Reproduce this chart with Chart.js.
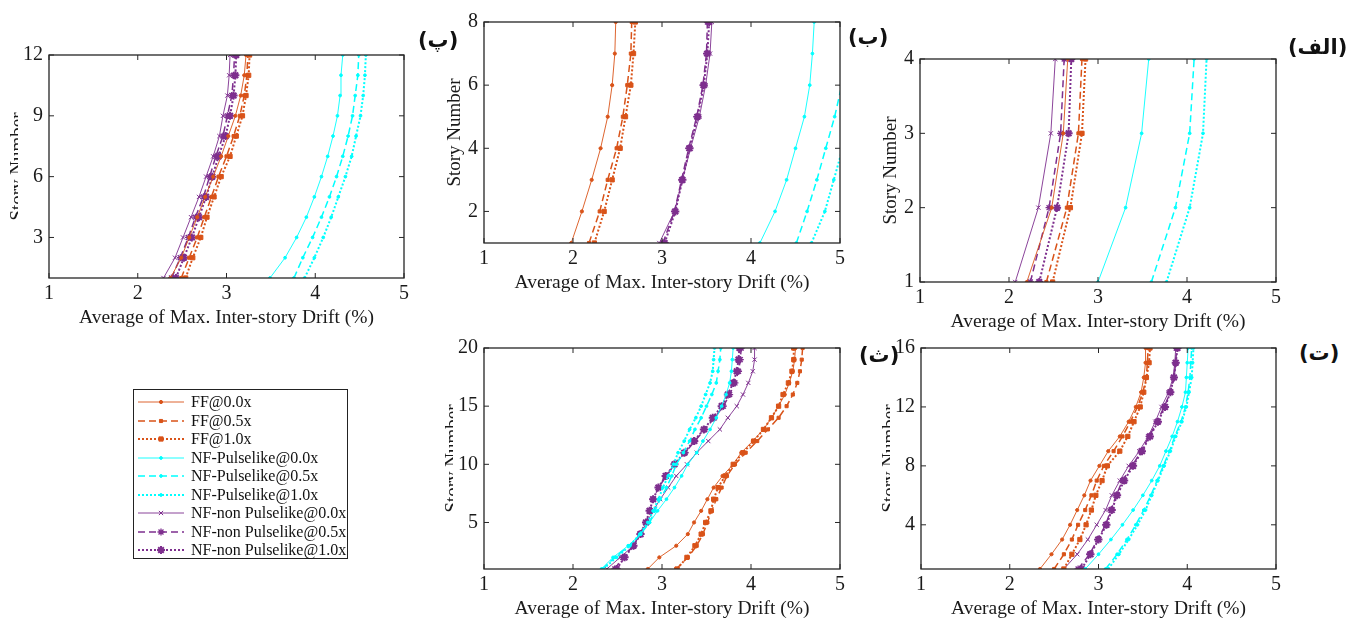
<!DOCTYPE html>
<html>
<head>
<meta charset="utf-8">
<script src="https://cdn.jsdelivr.net/npm/chart.js@4.4.1/dist/chart.umd.min.js"></script>
<style>
  body { margin: 0; background: #fff; width: 1346px; height: 622px; position: relative; overflow: hidden; font-family: "Liberation Serif", "DejaVu Serif", serif; }
  canvas.plot { position: absolute; }
  .tag { position: absolute; font: bold 21px "DejaVu Sans", sans-serif; color: #111; white-space: nowrap; line-height: 26px; }
  #legend { position: absolute; left: 133px; top: 389px; width: 213px; height: 168px; border: 1.5px solid #222; background: #fff; }
  .row { position: absolute; left: 0; height: 18px; display: flex; align-items: center; }
  .row span { font-size: 16px; color: #111; margin-left: 5px; }
</style>
</head>
<body>
<canvas id="pA" class="plot"></canvas>
<canvas id="pB" class="plot"></canvas>
<canvas id="pC" class="plot"></canvas>
<canvas id="pD" class="plot"></canvas>
<canvas id="pE" class="plot"></canvas>
<div id="legend"></div>
<div class="tag" style="left:1288px;top:34px">(الف)</div>
<div class="tag" style="left:848px;top:24px">(ب)</div>
<div class="tag" style="left:418px;top:27px">(پ)</div>
<div class="tag" style="left:1299px;top:340px">(ت)</div>
<div class="tag" style="left:859px;top:342px">(ث)</div>
<script>
// series names, in legend order
const seriesNames = ['FF@0.0x', 'FF@0.5x', 'FF@1.0x',
  'NF-Pulselike@0.0x', 'NF-Pulselike@0.5x', 'NF-Pulselike@1.0x',
  'NF-non Pulselike@0.0x', 'NF-non Pulselike@0.5x', 'NF-non Pulselike@1.0x'];

const xTicks = [1, 2, 3, 4, 5];

// 12 story model
const storiesA = [1, 2, 3, 4, 5, 6, 7, 8, 9, 10, 11, 12];
const yTicksA = [3, 6, 9, 12];
const driftA = [
  [2.37, 2.49, 2.58, 2.67, 2.76, 2.85, 2.94, 3.02, 3.10, 3.16, 3.20, 3.22],
  [2.49, 2.58, 2.67, 2.75, 2.83, 2.91, 3.00, 3.08, 3.15, 3.20, 3.23, 3.24],
  [2.54, 2.62, 2.71, 2.78, 2.86, 2.94, 3.04, 3.11, 3.18, 3.22, 3.25, 3.26],
  [3.49, 3.66, 3.79, 3.90, 3.99, 4.07, 4.14, 4.20, 4.25, 4.28, 4.29, 4.31],
  [3.76, 3.86, 3.97, 4.07, 4.16, 4.24, 4.31, 4.37, 4.42, 4.45, 4.48, 4.49],
  [3.88, 3.99, 4.09, 4.18, 4.26, 4.34, 4.41, 4.46, 4.51, 4.54, 4.56, 4.57],
  [2.29, 2.42, 2.51, 2.60, 2.69, 2.77, 2.85, 2.92, 2.96, 3.01, 3.03, 3.04],
  [2.38, 2.48, 2.57, 2.65, 2.74, 2.81, 2.88, 2.96, 3.01, 3.06, 3.08, 3.09],
  [2.43, 2.52, 2.61, 2.69, 2.77, 2.84, 2.91, 2.99, 3.04, 3.08, 3.10, 3.11]
];

// 8 story model
const storiesB = [1, 2, 3, 4, 5, 6, 7, 8];
const yTicksB = [2, 4, 6, 8];
const driftB = [
  [1.98, 2.10, 2.21, 2.31, 2.39, 2.44, 2.47, 2.48],
  [2.18, 2.30, 2.39, 2.49, 2.56, 2.61, 2.65, 2.66],
  [2.24, 2.35, 2.44, 2.53, 2.59, 2.65, 2.68, 2.70],
  [4.10, 4.27, 4.40, 4.50, 4.60, 4.66, 4.69, 4.71],
  [4.51, 4.63, 4.74, 4.84, 4.94, 5.02, 5.08, 5.10],
  [4.68, 4.83, 4.93, 5.03, 5.12, 5.18, 5.22, 5.24],
  [2.97, 3.14, 3.23, 3.32, 3.42, 3.49, 3.54, 3.56],
  [3.01, 3.14, 3.22, 3.30, 3.39, 3.46, 3.50, 3.51],
  [3.03, 3.15, 3.23, 3.31, 3.40, 3.47, 3.51, 3.53]
];

// 4 story model
const storiesC = [1, 2, 3, 4];
const yTicksC = [1, 2, 3, 4];
const driftC = [
  [2.20, 2.48, 2.61, 2.66],
  [2.42, 2.65, 2.78, 2.82],
  [2.49, 2.69, 2.82, 2.86],
  [3.00, 3.31, 3.49, 3.57],
  [3.60, 3.87, 4.03, 4.08],
  [3.77, 4.03, 4.18, 4.22],
  [2.07, 2.33, 2.47, 2.52],
  [2.24, 2.45, 2.58, 2.62],
  [2.34, 2.54, 2.67, 2.70]
];

// 20 story model
const storiesD = [1, 2, 3, 4, 5, 6, 7, 8, 9, 10, 11, 12, 13, 14, 15, 16, 17, 18, 19, 20];
const yTicksD = [5, 10, 15, 20];
const driftD = [
  [2.84, 2.97, 3.16, 3.29, 3.36, 3.44, 3.51, 3.58, 3.68, 3.80, 3.89, 4.02, 4.14, 4.23, 4.31, 4.38, 4.43, 4.47, 4.49, 4.50],
  [3.16, 3.29, 3.39, 3.46, 3.51, 3.56, 3.61, 3.67, 3.73, 3.82, 3.94, 4.07, 4.19, 4.31, 4.40, 4.47, 4.52, 4.55, 4.57, 4.58],
  [3.17, 3.28, 3.37, 3.44, 3.49, 3.55, 3.58, 3.63, 3.71, 3.80, 3.91, 4.03, 4.14, 4.23, 4.31, 4.36, 4.42, 4.46, 4.48, 4.48],
  [2.32, 2.45, 2.62, 2.76, 2.86, 2.95, 3.05, 3.14, 3.22, 3.29, 3.39, 3.46, 3.54, 3.61, 3.67, 3.72, 3.76, 3.78, 3.79, 3.80],
  [2.33, 2.47, 2.63, 2.76, 2.86, 2.92, 2.98, 3.05, 3.11, 3.16, 3.24, 3.31, 3.37, 3.44, 3.50, 3.56, 3.61, 3.63, 3.65, 3.66],
  [2.34, 2.49, 2.64, 2.75, 2.84, 2.90, 2.96, 3.01, 3.07, 3.13, 3.18, 3.25, 3.31, 3.38, 3.44, 3.49, 3.54, 3.57, 3.58, 3.59],
  [2.38, 2.53, 2.68, 2.75, 2.83, 2.90, 2.98, 3.07, 3.16, 3.28, 3.39, 3.52, 3.65, 3.74, 3.84, 3.91, 3.97, 4.02, 4.04, 4.04],
  [2.47, 2.56, 2.68, 2.75, 2.82, 2.87, 2.90, 2.96, 3.05, 3.14, 3.26, 3.37, 3.48, 3.59, 3.69, 3.76, 3.82, 3.86, 3.88, 3.89],
  [2.49, 2.58, 2.68, 2.76, 2.82, 2.86, 2.90, 2.96, 3.04, 3.14, 3.25, 3.36, 3.47, 3.57, 3.67, 3.74, 3.80, 3.84, 3.86, 3.87]
];

// 16 story model
const storiesE = [1, 2, 3, 4, 5, 6, 7, 8, 9, 10, 11, 12, 13, 14, 15, 16];
const yTicksE = [4, 8, 12, 16];
const driftE = [
  [2.34, 2.47, 2.59, 2.68, 2.76, 2.84, 2.91, 3.01, 3.11, 3.24, 3.34, 3.42, 3.48, 3.51, 3.53, 3.53],
  [2.50, 2.61, 2.70, 2.77, 2.85, 2.92, 2.98, 3.06, 3.17, 3.27, 3.36, 3.44, 3.50, 3.54, 3.55, 3.56],
  [2.61, 2.70, 2.79, 2.86, 2.92, 2.97, 3.04, 3.10, 3.24, 3.33, 3.40, 3.47, 3.51, 3.54, 3.57, 3.58],
  [2.85, 3.00, 3.14, 3.27, 3.39, 3.50, 3.60, 3.69, 3.76, 3.83, 3.89, 3.94, 3.98, 3.99, 4.00, 4.01],
  [3.08, 3.21, 3.32, 3.42, 3.51, 3.59, 3.66, 3.73, 3.80, 3.86, 3.93, 3.98, 4.01, 4.03, 4.04, 4.05],
  [3.11, 3.23, 3.34, 3.44, 3.53, 3.60, 3.67, 3.74, 3.81, 3.87, 3.94, 3.99, 4.02, 4.05, 4.06, 4.07],
  [2.61, 2.76, 2.88, 2.98, 3.08, 3.15, 3.24, 3.34, 3.46, 3.56, 3.64, 3.71, 3.79, 3.84, 3.86, 3.87],
  [2.77, 2.90, 2.99, 3.08, 3.14, 3.20, 3.27, 3.38, 3.48, 3.57, 3.66, 3.74, 3.81, 3.85, 3.87, 3.88],
  [2.81, 2.91, 3.00, 3.09, 3.15, 3.21, 3.29, 3.39, 3.49, 3.58, 3.67, 3.75, 3.81, 3.85, 3.87, 3.89]
];

const xTitle = 'Average of Max. Inter-story Drift (%)';
const yTitle = 'Story Number';

// line / marker style of each series (same order as seriesNames)
const ORANGE = '#D95319', CYAN = '#00FFFF', PURPLE = '#7E2F8E';
const styles = [
  { color: ORANGE, dash: [],     width: 0.9, point: 'circle',   r: 1.6, pw: 1 },
  { color: ORANGE, dash: [7, 4], width: 1.5, point: 'rect',     r: 2.2, pw: 1 },
  { color: ORANGE, dash: [2, 2], width: 2,   point: 'rect',     r: 3,   pw: 1 },
  { color: CYAN,   dash: [],     width: 0.9, point: 'circle',   r: 1.4, pw: 1 },
  { color: CYAN,   dash: [7, 4], width: 1.5, point: 'circle',   r: 1.4, pw: 1 },
  { color: CYAN,   dash: [2, 2], width: 2,   point: 'circle',   r: 1.4, pw: 1 },
  { color: PURPLE, dash: [],     width: 0.9, point: 'crossRot', r: 3,   pw: 1 },
  { color: PURPLE, dash: [7, 4], width: 1.5, point: 'star',     r: 3.5, pw: 1.3 },
  { color: PURPLE, dash: [2, 2], width: 2,   point: 'star',     r: 4,   pw: 2 }
];

Chart.defaults.font.family = '"Liberation Serif", "DejaVu Serif", serif';
Chart.defaults.color = '#1a1a1a';

// box around the axes with inward ticks, like matlab
const framePlugin = {
  id: 'frame',
  afterDatasetsDraw(chart) {
    const { ctx, chartArea: a, scales: { x, y } } = chart;
    ctx.save();
    ctx.strokeStyle = '#262626';
    ctx.lineWidth = 1.3;
    ctx.setLineDash([]);
    ctx.strokeRect(a.left, a.top, a.right - a.left, a.bottom - a.top);
    ctx.lineWidth = 1;
    ctx.beginPath();
    x.ticks.forEach(t => {
      const px = x.getPixelForValue(t.value);
      ctx.moveTo(px, a.bottom); ctx.lineTo(px, a.bottom - 5);
      ctx.moveTo(px, a.top); ctx.lineTo(px, a.top + 5);
    });
    y.ticks.forEach(t => {
      const py = y.getPixelForValue(t.value);
      ctx.moveTo(a.left, py); ctx.lineTo(a.left + 5, py);
      ctx.moveTo(a.right, py); ctx.lineTo(a.right - 5, py);
    });
    ctx.stroke();
    ctx.restore();
  }
};

// y title drawn by hand, some of them are half hidden in the original figure
const yTitlePlugin = {
  id: 'yTitle',
  afterDraw(chart, args, opts) {
    const { ctx, chartArea: a } = chart;
    ctx.save();
    let base = a.left - 24;
    if (opts.clipped) {
      base = a.left - 26;
      ctx.beginPath();
      ctx.rect(a.left - 41, a.top, 10, a.bottom - a.top);
      ctx.clip();
    }
    ctx.translate(base, (a.top + a.bottom) / 2);
    ctx.rotate(-Math.PI / 2);
    ctx.font = '19px "Liberation Serif", serif';
    ctx.fillStyle = '#1a1a1a';
    ctx.textAlign = 'center';
    ctx.textBaseline = 'alphabetic';
    ctx.fillText(opts.text, 0, 0);
    ctx.restore();
  }
};

const PAD_L = 50, PAD_T = 14, PAD_R = 14, PAD_B = 55;

function drawPanel(id, box, stories, drift, yTicks, clipped) {
  const cv = document.getElementById(id);
  const w = box.R - box.L + PAD_L + PAD_R;
  const h = box.B - box.T + PAD_T + PAD_B;
  cv.width = w; cv.height = h;
  cv.style.left = (box.L - PAD_L) + 'px';
  cv.style.top = (box.T - PAD_T) + 'px';
  cv.style.width = w + 'px'; cv.style.height = h + 'px';

  const datasets = drift.map((vals, i) => {
    const s = styles[i];
    return {
      label: seriesNames[i],
      data: stories.map((st, k) => ({ x: vals[k], y: st })),
      showLine: true,
      borderColor: s.color,
      backgroundColor: s.color,
      borderWidth: s.width,
      borderDash: s.dash,
      pointStyle: s.point,
      pointRadius: s.r,
      pointBorderWidth: s.pw,
      pointBackgroundColor: s.color,
      pointBorderColor: s.color,
      tension: 0
    };
  });

  new Chart(cv, {
    type: 'scatter',
    data: { datasets },
    plugins: [framePlugin, yTitlePlugin],
    options: {
      responsive: false,
      maintainAspectRatio: false,
      animation: false,
      layout: { padding: { top: PAD_T, right: PAD_R, left: 0, bottom: 0 } },
      plugins: {
        legend: { display: false },
        tooltip: { enabled: false },
        yTitle: { text: yTitle, clipped }
      },
      scales: {
        x: {
          type: 'linear', min: 1, max: 5,
          afterBuildTicks: sc => { sc.ticks = xTicks.map(v => ({ value: v })); },
          ticks: { font: { size: 20 }, padding: 4, maxRotation: 0 },
          grid: { display: false, drawTicks: false },
          border: { display: false },
          title: { display: true, text: xTitle, font: { size: 19.5 }, padding: { top: 0, bottom: 3 } },
          afterFit: sc => { sc.height = PAD_B; }
        },
        y: {
          type: 'linear', min: 1, max: stories[stories.length - 1],
          afterBuildTicks: sc => { sc.ticks = yTicks.map(v => ({ value: v })); },
          ticks: { font: { size: 20 }, padding: 6 },
          grid: { display: false, drawTicks: false },
          border: { display: false },
          afterFit: sc => { sc.width = PAD_L; }
        }
      }
    }
  });
}

drawPanel('pA', { L: 49, R: 404, T: 51, B: 278 }, storiesA, driftA, yTicksA, true);
drawPanel('pB', { L: 484, R: 840, T: 18, B: 243 }, storiesB, driftB, yTicksB, false);
drawPanel('pC', { L: 920, R: 1276, T: 55, B: 282 }, storiesC, driftC, yTicksC, false);
drawPanel('pD', { L: 484, R: 840, T: 344, B: 569 }, storiesD, driftD, yTicksD, true);
drawPanel('pE', { L: 921, R: 1276, T: 344, B: 569 }, storiesE, driftE, yTicksE, true);

// legend box, samples drawn with the chart's own point renderer
const legend = document.getElementById('legend');
seriesNames.forEach((name, i) => {
  const s = styles[i];
  const row = document.createElement('div');
  row.className = 'row';
  row.style.top = (3 + i * 18.5) + 'px';
  const c = document.createElement('canvas');
  c.width = 52; c.height = 18;
  const ctx = c.getContext('2d');
  ctx.strokeStyle = s.color;
  ctx.fillStyle = s.color;
  ctx.lineWidth = s.width;
  ctx.setLineDash(s.dash);
  ctx.beginPath(); ctx.moveTo(4, 9); ctx.lineTo(50, 9); ctx.stroke();
  ctx.setLineDash([]);
  ctx.lineWidth = s.pw;
  if (Chart.helpers && Chart.helpers.drawPoint) {
    Chart.helpers.drawPoint(ctx, { pointStyle: s.point, radius: s.r, borderWidth: s.pw, rotation: 0 }, 27, 9);
  } else {
    ctx.beginPath(); ctx.arc(27, 9, s.r, 0, Math.PI * 2); ctx.fill();
  }
  const span = document.createElement('span');
  span.textContent = name;
  row.appendChild(c);
  row.appendChild(span);
  legend.appendChild(row);
});
</script>
</body>
</html>
